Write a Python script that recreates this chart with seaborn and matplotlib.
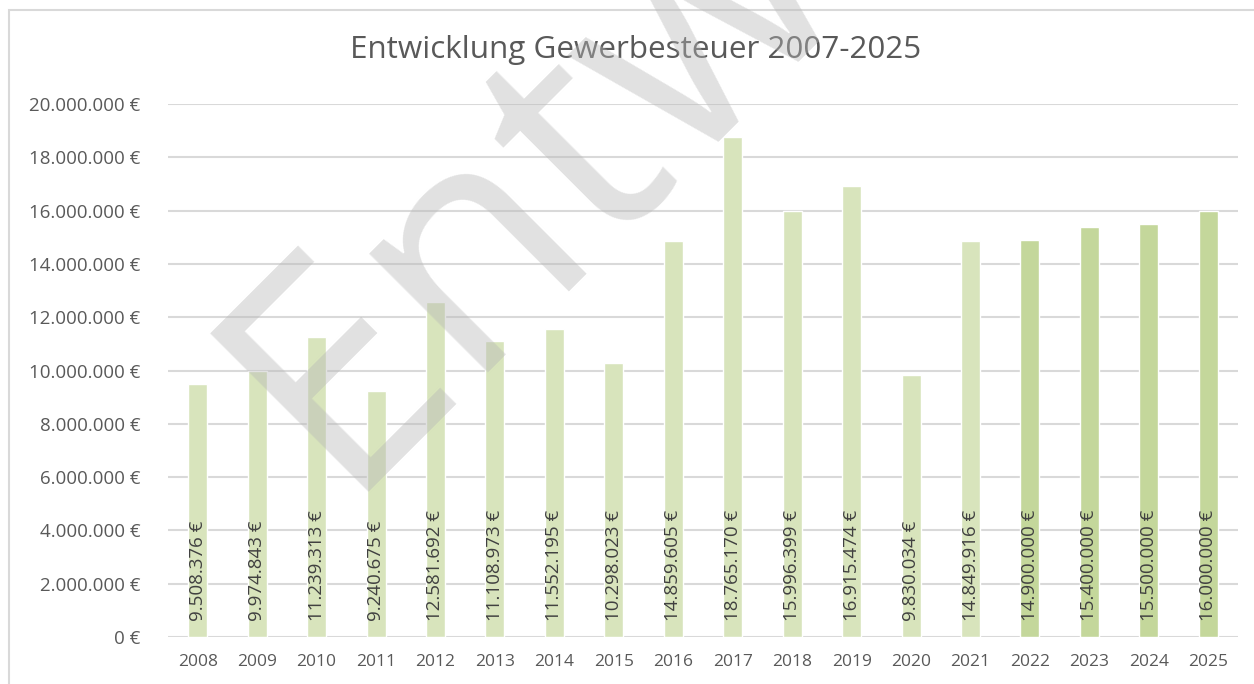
import matplotlib
matplotlib.use("Agg")
import matplotlib.pyplot as plt
import seaborn as sns
import pandas as pd
from matplotlib.patches import Rectangle
from matplotlib.ticker import FuncFormatter

years = ["2008", "2009", "2010", "2011", "2012", "2013", "2014", "2015", "2016",
         "2017", "2018", "2019", "2020", "2021", "2022", "2023", "2024", "2025"]
values = [9508376, 9974843, 11239313, 9240675, 12581692, 11108973, 11552195,
          10298023, 14859605, 18765170, 15996399, 16915474, 9830034, 14849916,
          14900000, 15400000, 15500000, 16000000]
kind = ["Ist"] * 14 + ["Plan"] * 4
palette = {"Ist": "#D8E4BC", "Plan": "#C4D79B"}
title = "Entwicklung Gewerbesteuer 2007-2025"
watermark = "Entwurf"

def eur(v):
    return f"{int(round(v)):,}".replace(",", ".") + " €"

df = pd.DataFrame({"Jahr": years, "Wert": values, "Art": kind})

sns.set_theme(style="white")
FONT = ["Open Sans", "DejaVu Sans"]
plt.rcParams["font.family"] = FONT

fig = plt.figure(figsize=(12.54, 6.84), dpi=100)
ax = fig.add_axes([168 / 1254, 1 - 637 / 684, (1238 - 168) / 1254, (637 - 104) / 684])

sns.barplot(data=df, x="Jahr", y="Wert", hue="Art", palette=palette, dodge=False,
            width=0.32, legend=False, ax=ax, saturation=1, zorder=2)

ax.set_ylim(0, 20_000_000)
ax.set_xlim(-0.5, len(years) - 0.5)
ax.set_yticks(range(0, 20_000_001, 2_000_000))
ax.yaxis.set_major_formatter(FuncFormatter(lambda v, p: eur(v)))
ax.grid(axis="y", color="#D9D9D9", linewidth=1.5, zorder=0)
ax.set_axisbelow(True)
for s in ax.spines.values():
    s.set_visible(False)
ax.set_xlabel("")
ax.set_ylabel("")
ax.tick_params(axis="both", length=0, colors="#595959")
ax.tick_params(axis="y", pad=20, labelsize=13.5)
ax.tick_params(axis="x", pad=12, labelsize=12.5)

for i, v in enumerate(values):
    ax.text(i, 600_000, eur(v), rotation=90, ha="center", va="bottom",
            color="#404040", fontsize=13.5, zorder=3)

fig.text(636 / 1254, 1 - 50 / 684, title, ha="center", va="center",
         fontsize=22.6, color="#595959")

# chart frame
fig.patches.append(Rectangle((9 / 1254, -0.05), 1.1, 1 - 10 / 684 + 0.05,
                             transform=fig.transFigure, fill=False,
                             edgecolor="#D9D9D9", linewidth=1.5))

# watermark
fig.text(338 / 1254, 1 - 492 / 684, watermark, rotation=45, rotation_mode="anchor",
         ha="left", va="baseline", fontsize=225, color="#B8B8B8", alpha=0.42,
         zorder=10, family=["Open Sans", "DejaVu Sans"])

fig.savefig("out.png", dpi=100)
